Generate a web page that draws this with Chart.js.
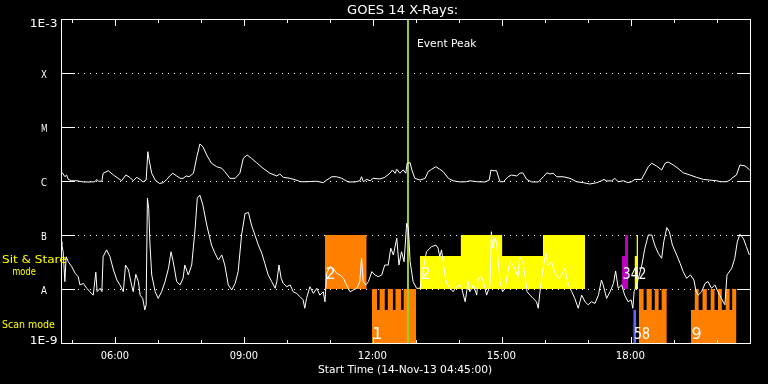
<!DOCTYPE html>
<html><head><meta charset="utf-8">
<script src="https://cdn.jsdelivr.net/npm/chart.js@4.4.0/dist/chart.umd.min.js"></script>
<style>html,body{margin:0;padding:0;background:#000;overflow:hidden}</style>
</head><body>
<canvas id="c" width="768" height="384"></canvas>
<script>
// ---------- data (time in decimal hours UT, 14-Nov-2013; flux W/m^2) ----------
const xStart = 4.75;            // 04:45:00
const xEnd = 20.775;
const tickHours = [6, 9, 12, 15, 18];
const yTickValues = [1e-9, 1e-8, 1e-7, 1e-6, 1e-5, 1e-4, 1e-3];
const yTickLabels = ['1E-9', 'A', 'B', 'C', 'M', 'X', '1E-3'];
const eventPeakTime = 12.82;

const longTimes = [4.75,4.79,4.84,4.88,4.92,5.00,5.12,5.27,5.42,5.54,5.58,5.62,5.70,5.73,5.85,5.97,6.08,6.16,6.26,6.35,6.43,6.51,6.59,6.66,6.73,6.77,6.80,6.86,6.94,7.04,7.13,7.21,7.28,7.35,7.44,7.52,7.59,7.66,7.73,7.83,7.91,7.98,8.05,8.14,8.25,8.37,8.49,8.56,8.68,8.80,8.91,8.99,9.08,9.18,9.30,9.45,9.61,9.77,9.84,9.92,10.08,10.27,10.31,10.46,10.70,10.85,10.93,11.05,11.16,11.28,11.43,11.59,11.70,11.74,11.78,11.86,11.94,12.01,12.17,12.28,12.40,12.46,12.52,12.56,12.63,12.71,12.77,12.80,12.87,12.91,12.98,13.10,13.22,13.29,13.37,13.47,13.56,13.64,13.76,13.87,14.03,14.18,14.26,14.42,14.61,14.71,14.75,14.80,14.88,14.96,15.04,15.15,15.23,15.35,15.42,15.49,15.58,15.70,15.85,15.97,16.05,16.12,16.20,16.28,16.43,16.59,16.74,16.90,17.05,17.21,17.32,17.38,17.44,17.56,17.63,17.71,17.83,17.94,18.02,18.10,18.25,18.33,18.41,18.49,18.60,18.72,18.80,18.87,18.99,19.10,19.22,19.38,19.53,19.69,19.84,20.00,20.08,20.23,20.31,20.38,20.46,20.54,20.66,20.77];
const longFlux = [1.49e-6,1.39e-6,1.2e-6,1.29e-6,1.07e-6,1.01e-6,1.01e-6,9.6e-7,9.6e-7,9.7e-7,1.07e-6,9.9e-7,9.9e-7,1.39e-6,1.55e-6,1.29e-6,1.12e-6,1.01e-6,1.29e-6,1.17e-6,1.01e-6,1.17e-6,1.07e-6,9.6e-7,1.04e-6,3.49e-6,2.45e-6,1.39e-6,1.04e-6,9.0e-7,9.3e-7,1.07e-6,1.24e-6,1.39e-6,1.24e-6,1.12e-6,1.12e-6,1.24e-6,1.2e-6,1.39e-6,2.82e-6,4.84e-6,4.32e-6,3.03e-6,2.13e-6,1.84e-6,1.72e-6,1.49e-6,1.12e-6,1.12e-6,1.39e-6,2.63e-6,3.03e-6,2.63e-6,2.18e-6,1.72e-6,1.39e-6,1.24e-6,1.35e-6,1.17e-6,1.12e-6,1.01e-6,9.7e-7,9.7e-7,9.9e-7,9.3e-7,1.04e-6,1.2e-6,1.2e-6,1.12e-6,9.6e-7,9.6e-7,1.01e-6,1.2e-6,9.7e-7,1.07e-6,1.01e-6,1.12e-6,1.09e-6,1.17e-6,1.39e-6,1.6e-6,1.39e-6,1.65e-6,1.39e-6,1.6e-6,1.39e-6,2.13e-6,2.18e-6,1.6e-6,1.12e-6,1.04e-6,1.12e-6,1.49e-6,1.65e-6,1.84e-6,1.65e-6,1.49e-6,1.12e-6,1.01e-6,9.6e-7,9.7e-7,1.01e-6,9.7e-7,9.6e-7,1.04e-6,1.6e-6,1.55e-6,1.55e-6,9.7e-7,9.7e-7,1.2e-6,1.29e-6,1.24e-6,1.39e-6,1.42e-6,1.07e-6,9.6e-7,9.6e-7,1.2e-6,1.42e-6,1.35e-6,1.39e-6,1.2e-6,1.2e-6,1.12e-6,9.7e-7,9.3e-7,8.8e-7,9.3e-7,1.01e-6,1.07e-6,1.0e-6,1.01e-6,1.12e-6,9.7e-7,1.01e-6,9.3e-7,9.7e-7,1.07e-6,1.07e-6,1.39e-6,1.84e-6,2.13e-6,1.9e-6,1.6e-6,2.13e-6,2.25e-6,1.98e-6,1.72e-6,1.42e-6,1.29e-6,1.17e-6,1.07e-6,1.04e-6,1.01e-6,9.7e-7,9.7e-7,1.04e-6,1.17e-6,1.29e-6,1.98e-6,1.9e-6,1.6e-6];

const shortTimes = [4.75,4.77,4.80,4.84,4.87,4.92,5.00,5.08,5.15,5.19,5.27,5.35,5.42,5.50,5.56,5.59,5.66,5.70,5.73,5.81,5.89,5.97,6.05,6.12,6.20,6.25,6.32,6.39,6.43,6.49,6.55,6.59,6.65,6.70,6.73,6.76,6.79,6.82,6.86,6.94,7.01,7.09,7.17,7.25,7.31,7.36,7.44,7.52,7.59,7.63,7.71,7.79,7.87,7.92,7.98,8.05,8.14,8.25,8.33,8.41,8.49,8.56,8.64,8.72,8.80,8.87,8.95,9.03,9.11,9.18,9.26,9.34,9.42,9.49,9.57,9.65,9.73,9.77,9.82,9.87,9.92,10.00,10.08,10.15,10.23,10.31,10.38,10.42,10.46,10.54,10.62,10.70,10.77,10.85,10.89,10.93,11.01,11.08,11.16,11.24,11.32,11.39,11.47,11.55,11.63,11.70,11.74,11.78,11.84,11.90,11.98,12.05,12.13,12.21,12.28,12.36,12.42,12.48,12.56,12.61,12.67,12.73,12.79,12.83,12.87,12.94,13.02,13.10,13.18,13.25,13.37,13.47,13.52,13.56,13.60,13.64,13.68,13.72,13.80,13.87,13.95,14.03,14.07,14.15,14.22,14.26,14.34,14.42,14.45,14.53,14.57,14.65,14.73,14.76,14.79,14.84,14.88,14.92,14.96,15.02,15.08,15.13,15.19,15.27,15.33,15.38,15.42,15.49,15.54,15.59,15.66,15.73,15.81,15.85,15.89,15.95,16.03,16.08,16.16,16.24,16.32,16.39,16.47,16.55,16.63,16.70,16.78,16.86,16.94,17.01,17.09,17.17,17.25,17.32,17.36,17.44,17.52,17.60,17.65,17.71,17.79,17.86,17.94,18.01,18.05,18.08,18.14,18.20,18.26,18.33,18.41,18.49,18.56,18.64,18.72,18.77,18.84,18.90,18.97,19.07,19.15,19.22,19.30,19.39,19.47,19.52,19.57,19.65,19.73,19.80,19.88,19.96,20.03,20.11,20.19,20.24,20.35,20.42,20.48,20.54,20.62,20.69,20.76];
const shortFlux = [7.5e-8,6.5e-8,4.9e-8,1.37e-8,3.96e-8,3.2e-8,2.59e-8,1.95e-8,1.69e-8,1.19e-8,1.27e-8,1.03e-8,8.9e-9,7.7e-9,2.04e-8,8.9e-9,1.03e-8,8.9e-9,3.96e-8,5.3e-8,3.96e-8,2.25e-8,1.47e-8,1.19e-8,8.9e-9,2.78e-8,2.25e-8,1.19e-8,8.9e-9,1.87e-8,1.37e-8,7.7e-9,6.7e-9,4.1e-9,5.1e-9,4.8e-7,3.1e-7,6.5e-8,1.82e-8,8.9e-9,6.7e-9,8.9e-9,1.37e-8,2.42e-8,4.9e-8,3.2e-8,1.37e-8,1.19e-8,1.58e-8,2.78e-8,1.82e-8,2.78e-8,1.33e-7,4.8e-7,5.5e-7,3.6e-7,1.53e-7,6.5e-8,4.6e-8,3.44e-8,4.26e-8,2.78e-8,1.19e-8,9.6e-9,1.27e-8,2.1e-8,1.0e-7,2.5e-7,2.6e-7,1.53e-7,1.0e-7,6.5e-8,4.6e-8,2.99e-8,1.82e-8,1.37e-8,1.03e-8,1.37e-8,2.78e-8,1.58e-8,1.27e-8,1.1e-8,1.19e-8,8.9e-9,8.3e-9,7.2e-9,6.3e-9,4.4e-9,6.7e-9,1.1e-8,8.3e-9,1.03e-8,7.7e-9,8.9e-9,5.8e-9,1.95e-8,2.59e-8,2.42e-8,1.95e-8,1.82e-8,1.58e-8,1.19e-8,8.9e-9,9.6e-9,1.03e-8,1.37e-8,3.7e-8,1.37e-8,1.19e-8,1.37e-8,2.1e-8,1.82e-8,1.69e-8,1.82e-8,2.78e-8,2.78e-8,5.7e-8,4.26e-8,8.7e-8,2.78e-8,4.9e-8,3.2e-8,1.65e-7,1.33e-7,3.2e-8,1.37e-8,1.03e-8,1.03e-8,2.42e-8,4.9e-8,6.1e-8,6.5e-8,5.7e-8,3.96e-8,5.3e-8,3.2e-8,1.82e-8,1.27e-8,1.03e-8,8.9e-9,1.1e-8,1.19e-8,1.03e-8,5.8e-9,1.37e-8,8.9e-9,1.19e-8,7.7e-9,1.58e-8,1.69e-8,1.37e-8,7.7e-9,1.19e-8,1.15e-7,5.7e-8,8.7e-8,7.5e-8,3.2e-8,1.37e-8,8.9e-9,1.03e-8,1.82e-8,3.2e-8,2.78e-8,2.1e-8,1.69e-8,3.96e-8,3.2e-8,1.82e-8,8.9e-9,7.7e-9,6.7e-9,5.8e-9,4.4e-9,8.9e-9,2.1e-8,4.6e-8,2.78e-8,3.2e-8,1.95e-8,1.58e-8,1.82e-8,2.42e-8,1.19e-8,8.9e-9,6.7e-9,4.4e-9,7.7e-9,5.8e-9,5.1e-9,5.8e-9,5.4e-9,7.7e-9,1.47e-8,1.19e-8,6.7e-9,8.9e-9,1.27e-8,2.15e-8,1.03e-8,1.19e-8,7.7e-9,5.8e-9,6.3e-9,4.4e-9,8.9e-9,1.19e-8,1.82e-8,2.78e-8,5.7e-8,1.0e-7,1.0e-7,6.5e-8,4.6e-8,3.7e-8,7.5e-8,1.37e-7,1.15e-7,6.5e-8,4.26e-8,2.99e-8,2.1e-8,1.58e-8,1.82e-8,1.47e-8,9.1e-9,7.7e-9,8.9e-9,1.27e-8,1.37e-8,1.03e-8,1.19e-8,8.9e-9,6.7e-9,5.1e-9,1.82e-8,2.42e-8,3.7e-8,7.5e-8,1.03e-7,8.7e-8,6.1e-8,4.26e-8];

// observing-mode blocks: edges (hours) and level for each interval
const ssOrangeEdges = [10.89, 11.86];
const ssOrangeLevels = [1e-7];
const scanOrange1Edges = [11.98, 12.10, 12.16, 12.28, 12.35, 12.47, 12.53, 12.66, 12.72, 13.01];
const scanOrange1Levels = [1e-8, 4.1e-9, 1e-8, 4.1e-9, 1e-8, 4.1e-9, 1e-8, 4.1e-9, 1e-8];
const ssYellowEdges = [13.10, 14.05, 15.01, 15.96, 16.94];
const ssYellowLevels = [4.1e-8, 1e-7, 4.1e-8, 1e-7];
const ssMagentaEdges = [17.80, 17.87, 17.94];
const ssMagentaLevels = [4.1e-8, 1e-7];
const ssYellow2Edges = [18.09, 18.14, 18.17];
const ssYellow2Levels = [4.1e-8, 1e-7];
const scanBlueEdges = [18.06, 18.13];
const scanBlueLevels = [4.1e-9];
const scanOrange2Edges = [18.19, 18.30, 18.37, 18.49, 18.56, 18.65, 18.72, 18.84];
const scanOrange2Levels = [1e-8, 4.1e-9, 1e-8, 4.1e-9, 1e-8, 4.1e-9, 1e-8];
const scanOrange3Edges = [19.40, 19.49, 19.58, 19.67, 19.77, 19.86, 19.95, 20.03, 20.12, 20.21, 20.30, 20.36, 20.46];
const scanOrange3Levels = [4.1e-9, 1e-8, 4.1e-9, 1e-8, 4.1e-9, 1e-8, 4.1e-9, 1e-8, 4.1e-9, 1e-8, 4.1e-9, 1e-8];

const ORANGE = '#ff8000', YELLOW = '#ffff00', MAGENTA = '#c000c0', BLUE = '#6464ff', GREEN = '#9acd32';

const blocks = [
  {edges: ssOrangeEdges, levels: ssOrangeLevels, color: ORANGE, base: 1e-8, label: '2', band: 'ss'},
  {edges: scanOrange1Edges, levels: scanOrange1Levels, color: ORANGE, base: 1e-9, label: '1', band: 'scan'},
  {edges: ssYellowEdges, levels: ssYellowLevels, color: YELLOW, base: 1e-8, label: '2', band: 'ss'},
  {edges: ssMagentaEdges, levels: ssMagentaLevels, color: MAGENTA, base: 1e-8, label: '342', band: 'ss', w: 22},
  {edges: ssYellow2Edges, levels: ssYellow2Levels, color: YELLOW, base: 1e-8, label: '', band: 'ss'},
  {edges: scanBlueEdges, levels: scanBlueLevels, color: BLUE, base: 1e-9, label: '58', band: 'scan', w: 15},
  {edges: scanOrange2Edges, levels: scanOrange2Levels, color: ORANGE, base: 1e-9, label: '', band: 'scan'},
  {edges: scanOrange3Edges, levels: scanOrange3Levels, color: ORANGE, base: 1e-9, label: '9', band: 'scan'}
];

// ---------- helpers ----------
const zip = (xs, ys) => xs.map((x, i) => ({x: x, y: ys[i]}));
function stepData(edges, levels) {
  const d = levels.map((l, i) => ({x: edges[i], y: l}));
  d.push({x: edges[edges.length - 1], y: levels[levels.length - 1]});
  return d;
}
function fitText(ctx, txt, x0, width, baseline, size, color) {
  ctx.save();
  ctx.font = size + 'px "DejaVu Sans"';
  ctx.fillStyle = color;
  ctx.textBaseline = 'alphabetic';
  ctx.textAlign = 'left';
  const m = ctx.measureText(txt);
  const inkW = m.actualBoundingBoxLeft + m.actualBoundingBoxRight;
  const sx = width ? width / inkW : 1;
  ctx.translate(x0, baseline);
  ctx.scale(sx, 1);
  ctx.fillText(txt, m.actualBoundingBoxLeft, 0);
  ctx.restore();
}
function centerText(ctx, txt, cx, width, baseline, size, color) {
  ctx.save();
  ctx.font = size + 'px "DejaVu Sans"';
  const m = ctx.measureText(txt);
  const inkW = m.actualBoundingBoxLeft + m.actualBoundingBoxRight;
  ctx.restore();
  const w = width || inkW;
  fitText(ctx, txt, cx - w / 2, width, baseline, size, color);
}

// ---------- decoration plugin (frame, ticks, labels) ----------
const decor = {
  id: 'decor',
  beforeDraw(chart) {
    const c = chart.ctx;
    c.save(); c.fillStyle = '#000'; c.fillRect(0, 0, chart.width, chart.height); c.restore();
  },
  beforeDatasetsDraw(chart) {
    const {ctx, chartArea: a, scales: {y}} = chart;
    ctx.save(); ctx.fillStyle = '#fff';
    yTickValues.slice(1, -1).forEach(v => {
      const py = Math.round(y.getPixelForValue(v));
      for (let px = a.left + 17; px < a.right - 14; px += 6) ctx.fillRect(px, py, 1, 1);
    });
    ctx.restore();
  },
  afterDatasetsDraw(chart) {
    const {ctx, chartArea: a, scales: {x, y}} = chart;
    const L = Math.round(a.left), R = Math.round(a.right), T = Math.round(a.top), B = Math.round(a.bottom);
    ctx.save();
    ctx.fillStyle = '#fff';
    // frame
    ctx.fillRect(L, T, R - L + 1, 1);
    ctx.fillRect(L, B, R - L + 1, 1);
    ctx.fillRect(L, T, 1, B - T + 1);
    ctx.fillRect(R, T, 1, B - T + 1);
    // x ticks (hourly minor, 3-hourly major)
    for (let h = Math.ceil(xStart); h <= Math.floor(xEnd); h++) {
      const px = Math.round(x.getPixelForValue(h));
      const len = h % 3 === 0 ? 7 : 4;
      ctx.fillRect(px, T, 1, len);
      ctx.fillRect(px, B - len + 1, 1, len);
    }
    // y ticks
    yTickValues.slice(1, -1).forEach(v => {
      const py = Math.round(y.getPixelForValue(v));
      ctx.fillRect(L, py, 14, 1);
      ctx.fillRect(R - 13, py, 14, 1);
    });
    ctx.restore();

    // x tick labels
    tickHours.forEach(h => {
      const px = x.getPixelForValue(h);
      const lbl = String(h).padStart(2, '0') + ':00';
      centerText(ctx, lbl, px, 28, B + 16, 10, '#fff');
    });
    // y tick labels
    yTickValues.forEach((v, i) => {
      const py = y.getPixelForValue(v);
      const lbl = yTickLabels[i];
      if (lbl.length > 1) {
        const base = i === 0 ? py + 1 : py + 8;
        fitText(ctx, lbl, L - 30, 26, base, 10, '#fff');
      } else {
        centerText(ctx, lbl, L - 17, 6, py + 5, 10, '#fff');
      }
    });
    // titles
    fitText(ctx, 'GOES 14 X-Rays:', 347, 110, 14, 12, '#fff');
    fitText(ctx, 'Start Time (14-Nov-13 04:45:00)', 318, 174, 373, 11, '#fff');
    // event label
    const ex = x.getPixelForValue(eventPeakTime);
    fitText(ctx, 'Event Peak', ex + 10, 59, 47, 11, '#fff');
    // mode labels
    fitText(ctx, 'Sit & Stare', 2, 65, 263, 11, YELLOW);
    fitText(ctx, 'mode', 13, 23, 275, 11, YELLOW);
    fitText(ctx, 'Scan mode', 2, 53, 328, 11, YELLOW);
    // block labels
    blocks.forEach(b => {
      if (!b.label) return;
      const px = x.getPixelForValue(b.edges[0]) + 1.5;
      const base = b.band === 'ss' ? 279 : 339;
      fitText(ctx, b.label, px, b.w || 0, base, 16, '#fff');
    });
  }
};

// ---------- datasets ----------
const datasets = [];
blocks.forEach(b => datasets.push({
  data: stepData(b.edges, b.levels),
  stepped: true,
  fill: {value: b.base},
  backgroundColor: b.color,
  borderColor: 'rgba(0,0,0,0)',
  borderWidth: 1,
  pointRadius: 0,
  order: 3
}));
datasets.push({
  data: [{x: eventPeakTime, y: 1e-9}, {x: eventPeakTime, y: 1e-3}],
  borderColor: GREEN, borderWidth: 2, pointRadius: 0, fill: false, order: 2
});
datasets.push({data: zip(longTimes, longFlux), borderColor: '#fff', borderWidth: 1, pointRadius: 0, fill: false, order: 1});
datasets.push({data: zip(shortTimes, shortFlux), borderColor: '#fff', borderWidth: 1, pointRadius: 0, fill: false, order: 1});

new Chart(document.getElementById('c'), {
  type: 'line',
  data: {datasets: datasets},
  options: {
    responsive: false,
    animation: false,
    devicePixelRatio: 1,
    layout: {padding: {left: 61, right: 18, top: 19, bottom: 41}},
    plugins: {legend: {display: false}, tooltip: {enabled: false}, title: {display: false}},
    elements: {line: {tension: 0}, point: {radius: 0}},
    scales: {
      x: {type: 'linear', min: xStart, max: xEnd, display: false},
      y: {type: 'logarithmic', min: 1e-9, max: 1e-3, display: false}
    }
  },
  plugins: [decor]
});
</script>
</body></html>
